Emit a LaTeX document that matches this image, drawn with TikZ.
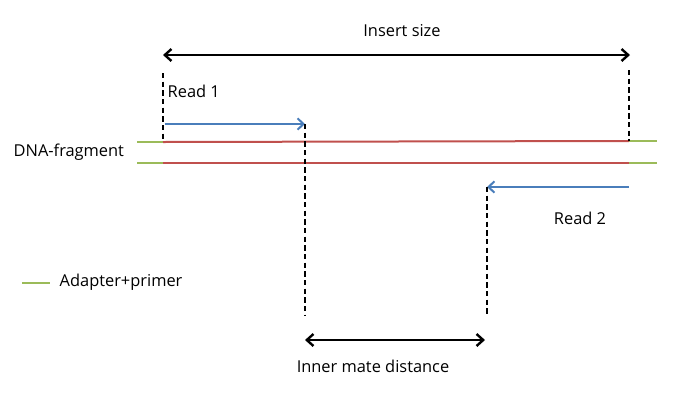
\documentclass[tikz,border=0pt]{standalone}
\usepackage{fontspec}
\setmainfont{Open Sans}
\usetikzlibrary{arrows.meta}
\definecolor{readblue}{RGB}{74,126,187}
\definecolor{fragred}{RGB}{192,80,77}
\definecolor{adaptgreen}{RGB}{155,187,89}
\tikzset{
  span/.style={line width=1.8pt, {Straight Barb[length=5pt,width=9pt]}-{Straight Barb[length=5pt,width=9pt]}},
  readarrow/.style={readblue, line width=1.5pt, -{Straight Barb[length=4.5pt,width=8.5pt]}},
  guide/.style={line width=1.5pt, dash pattern=on 4pt off 2.5pt},
  strand/.style={fragred, line width=1.5pt},
  adapter/.style={adaptgreen, line width=1.5pt}
}
\begin{document}
\begin{tikzpicture}[x=0.75pt, y=-0.75pt, font=\fontsize{12.3}{14}\selectfont]
\useasboundingbox (0,0) rectangle (687,401);
% labels
\node (insert) at (402,31) {Insert size};
\node[anchor=west] (read1) at (163,91) {Read 1};
\node[anchor=west] (dna) at (9,152) {DNA-fragment};
\node (read2) at (580,218) {Read 2};
\node[anchor=west] (legend) at (55,282) {Adapter+primer};
\node (inner) at (373,366) {Inner mate distance};
% end points
\coordinate (ls) at (163,55);
\coordinate (le) at (630,55);
\coordinate (ta) at (137,142);
\coordinate (tb) at (163,142);
\coordinate (tc) at (629,141);
\coordinate (td) at (657,141);
\coordinate (ba) at (137,163);
\coordinate (bb) at (163,163);
\coordinate (bc) at (629,163);
\coordinate (bd) at (657,163);
\coordinate (r1s) at (165,124);
\coordinate (r1e) at (305,124);
\coordinate (r2s) at (629,187);
\coordinate (r2e) at (487,187);
\coordinate (g1) at (163,73);
\coordinate (g2) at (629,70);
\coordinate (g3) at (305,315);
\coordinate (g4) at (487,315);
\coordinate (ms) at (305,340);
\coordinate (me) at (485,340);
\coordinate (ka) at (22,283);
\coordinate (kb) at (50,283);
% fragment
\draw[adapter] (ta) -- (tb);
\draw[strand] (tb) -- (tc);
\draw[adapter] (tc) -- (td);
\draw[adapter] (ba) -- (bb);
\draw[strand] (bb) -- (bc);
\draw[adapter] (bc) -- (bd);
\draw[adapter] (ka) -- (kb);
% reads
\draw[readarrow] (r1s) -- (r1e);
\draw[readarrow] (r2s) -- (r2e);
% guides
\draw[guide] (g1) -- (tb);
\draw[guide] (g2) -- (tc);
\draw[guide] (r1e) -- (g3);
\draw[guide] (r2e) -- (g4);
% distances
\draw[span] (ls) -- (le);
\draw[span] (ms) -- (me);
\end{tikzpicture}
\end{document}
